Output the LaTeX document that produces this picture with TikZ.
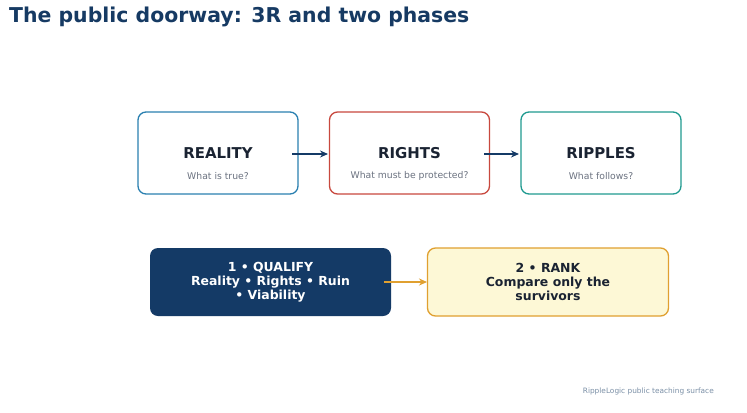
\documentclass[tikz,border=0pt]{standalone}
\usepackage{fontspec}
\setmainfont{DejaVu Sans}
\usetikzlibrary{arrows.meta}
\definecolor{navy}{HTML}{143A66}
\definecolor{titlec}{HTML}{163A63}
\definecolor{darktxt}{HTML}{1A2332}
\definecolor{subtxt}{HTML}{6B7280}
\definecolor{bluec}{HTML}{2A80B0}
\definecolor{redc}{HTML}{C8483E}
\definecolor{tealc}{HTML}{1F9A90}
\definecolor{orangec}{HTML}{E0A030}
\definecolor{yellowf}{HTML}{FDF8D6}
\definecolor{footc}{HTML}{7A8FA6}
\tikzset{
  rbox/.style={draw, line width=1.3bp, rounded corners=8bp, minimum width=160bp, minimum height=82bp, fill=white},
  phasebox/.style={rounded corners=8bp, minimum width=241bp, minimum height=68bp, align=center, font=\bfseries\fontsize{12.5}{14}\selectfont},
  conn/.style={-{Stealth[length=8bp,width=7bp]}, line width=1.4bp},
  headtxt/.style={font=\bfseries\fontsize{15}{17}\selectfont, text=darktxt},
  subt/.style={font=\fontsize{9.3}{11}\selectfont, text=subtxt}
}
\begin{document}
\begin{tikzpicture}[x=1bp,y=-1bp]
\useasboundingbox (0,0) rectangle (747,412);
\fill[white] (0,0) rectangle (747,412);
\node[anchor=base west, inner sep=0, font=\bfseries\fontsize{20.5}{23}\selectfont, text=titlec] (title) at (9,22) {The public doorway: 3R and two phases};
% top boxes
\node[rbox, draw=bluec] (reality) at (218,153) {};
\node[rbox, draw=redc] (rights) at (409.5,153) {};
\node[rbox, draw=tealc] (ripples) at (601,153) {};
\node[headtxt] (realityh) at (218,153) {REALITY};
\node[subt] (realitys) at (218,176) {What is true?};
\node[headtxt] (rightsh) at (409.5,153) {RIGHTS};
\node[subt] (rightss) at (409.5,176) {What must be protected?};
\node[headtxt] (ripplesh) at (601,153) {RIPPLES};
\node[subt] (ripless) at (601,176) {What follows?};
\coordinate (a1s) at (292,154); \coordinate (a1e) at (328,154);
\coordinate (a2s) at (484,154); \coordinate (a2e) at (519,154);
\draw[conn, draw=navy] (a1s) -- (a1e);
\draw[conn, draw=navy] (a2s) -- (a2e);
% bottom boxes
\node[phasebox, fill=navy, text=white] (qualify) at (270.5,282) {1 • QUALIFY\\Reality • Rights • Ruin\\• Viability};
\node[phasebox, fill=yellowf, draw=orangec, line width=1.3bp, text=darktxt] (rank) at (548,282) {2 • RANK\\Compare only the\\survivors};
\coordinate (b1s) at (384,282); \coordinate (b1e) at (427,282);
\draw[conn, draw=orangec] (b1s) -- (b1e);
\node[anchor=base east, inner sep=0, font=\fontsize{7.4}{8}\selectfont, text=footc] (foot) at (714,393) {RippleLogic public teaching surface};
\end{tikzpicture}
\end{document}
